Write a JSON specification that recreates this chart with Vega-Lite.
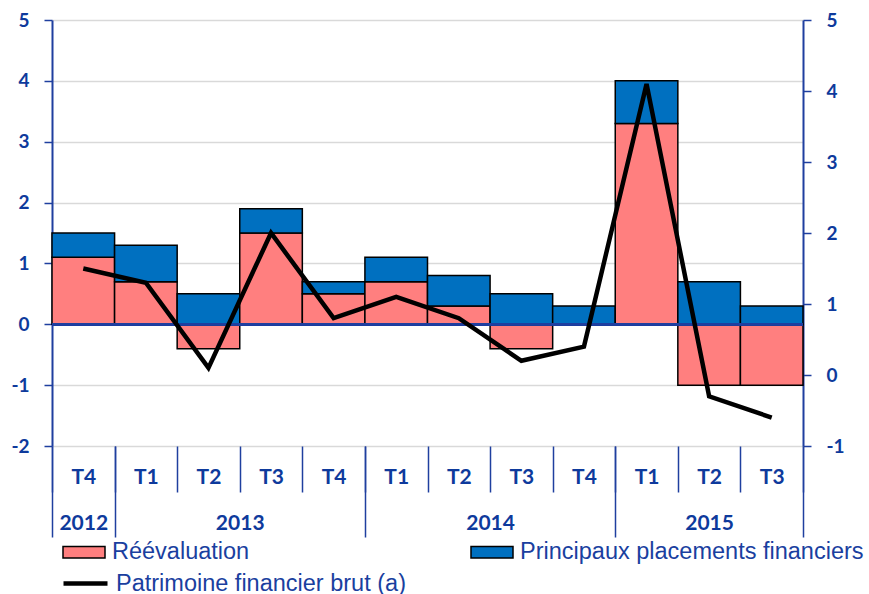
{
  "$schema": "https://vega.github.io/schema/vega-lite/v6.json",
  "width": 751,
  "height": 426,
  "autosize": {"type": "none"},
  "padding": {"left": 52, "top": 20, "right": 66, "bottom": 148},
  "background": "white",
  "config": {"view": {"stroke": null}},
  "data": {
    "values": [
      {"periode": "T4 2012", "Réévaluation": 1.1, "Principaux placements financiers": 0.4, "Patrimoine financier brut (a)": 1.5},
      {"periode": "T1 2013", "Réévaluation": 0.7, "Principaux placements financiers": 0.6, "Patrimoine financier brut (a)": 1.3},
      {"periode": "T2 2013", "Réévaluation": -0.4, "Principaux placements financiers": 0.5, "Patrimoine financier brut (a)": 0.1},
      {"periode": "T3 2013", "Réévaluation": 1.5, "Principaux placements financiers": 0.4, "Patrimoine financier brut (a)": 2.0},
      {"periode": "T4 2013", "Réévaluation": 0.5, "Principaux placements financiers": 0.2, "Patrimoine financier brut (a)": 0.8},
      {"periode": "T1 2014", "Réévaluation": 0.7, "Principaux placements financiers": 0.4, "Patrimoine financier brut (a)": 1.1},
      {"periode": "T2 2014", "Réévaluation": 0.3, "Principaux placements financiers": 0.5, "Patrimoine financier brut (a)": 0.8},
      {"periode": "T3 2014", "Réévaluation": -0.4, "Principaux placements financiers": 0.5, "Patrimoine financier brut (a)": 0.2},
      {"periode": "T4 2014", "Réévaluation": 0.0, "Principaux placements financiers": 0.3, "Patrimoine financier brut (a)": 0.4},
      {"periode": "T1 2015", "Réévaluation": 3.3, "Principaux placements financiers": 0.7, "Patrimoine financier brut (a)": 4.1},
      {"periode": "T2 2015", "Réévaluation": -1.0, "Principaux placements financiers": 0.7, "Patrimoine financier brut (a)": -0.3},
      {"periode": "T3 2015", "Réévaluation": -1.0, "Principaux placements financiers": 0.3, "Patrimoine financier brut (a)": -0.6}
    ]
  },
  "layer": [
    {
      "transform": [{"fold": ["Réévaluation", "Principaux placements financiers"], "as": ["composante", "valeur"]}],
      "layer": [
        {
          "mark": {"type": "bar", "stroke": "black", "strokeWidth": 1.5},
          "encoding": {
            "x": {
              "field": "periode", "type": "nominal", "sort": null,
              "scale": {"paddingInner": 0, "paddingOuter": 0},
              "axis": {
                "orient": "bottom", "title": null, "domain": false,
                "tickBand": "extent", "tickSize": 46, "tickColor": "#1F3F9F", "tickWidth": 1.5,
                "labelExpr": "split(datum.label, ' ')[0]", "labelAngle": 0,
                "labelFont": "Lato", "labelFontSize": 21, "labelFontWeight": "bold", "labelColor": "#0E3A9C",
                "labelPadding": -26, "labelBaseline": "top", "labelOverlap": false
              }
            },
            "y": {
              "field": "valeur", "type": "quantitative", "stack": "zero",
              "scale": {"domain": [-2, 5], "nice": false},
              "axis": {
                "orient": "left", "title": null, "values": [-2, -1, 0, 1, 2, 3, 4, 5],
                "labelExpr": "datum.value + ''",
                "domainColor": "#1F3F9F", "domainWidth": 2,
                "tickColor": "#1F3F9F", "tickSize": 8, "tickWidth": 1.5,
                "labelFont": "Lato", "labelFontSize": 19, "labelFontWeight": "bold", "labelColor": "#0E3A9C",
                "labelPadding": 15,
                "grid": true, "gridColor": "#D9D9D9", "gridWidth": 1.5
              }
            },
            "color": {
              "field": "composante", "type": "nominal",
              "scale": {"domain": ["Réévaluation", "Principaux placements financiers"], "range": ["#FF7F7F", "#0070C0"]},
              "legend": {
                "title": null, "orient": "none", "legendX": 10, "legendY": 510,
                "direction": "horizontal", "columns": 2, "columnPadding": 218, "padding": 0,
                "symbolType": "M-1,-0.27H1V0.27H-1Z", "symbolSize": 1764,
                "symbolStrokeColor": "black", "symbolStrokeWidth": 1.5, "symbolOpacity": 1,
                "labelFont": "Liberation Sans", "labelFontSize": 23.5, "labelColor": "#1A3F9F",
                "labelOffset": 6, "labelLimit": 0
              }
            },
            "order": {"field": "composante", "sort": "descending"}
          }
        },
        {
          "mark": {"type": "rule", "color": "#1F3F9F", "strokeWidth": 2},
          "encoding": {"y": {"datum": 0}}
        }
      ]
    },
    {
      "transform": [{"fold": ["Patrimoine financier brut (a)"], "as": ["serie", "niveau"]}],
      "mark": {"type": "line", "strokeWidth": 4.5, "strokeJoin": "miter"},
      "encoding": {
        "x": {
          "field": "periode", "type": "nominal", "sort": null,
          "axis": {
            "orient": "bottom", "title": null, "domain": false,
            "tickBand": "extent", "values": ["T4 2012", "T4 2013", "T4 2014", "T3 2015"],
            "tickSize": 91, "tickColor": "#1F3F9F", "tickWidth": 1.5,
            "labelExpr": "split(datum.label, ' ')[1]", "labelAngle": 0,
            "labelFont": "Lato", "labelFontSize": 21, "labelFontWeight": "bold", "labelColor": "#0E3A9C",
            "labelPadding": -25, "labelBaseline": "top", "labelOverlap": false,
            "labelOffset": {"condition": [{"test": "datum.value === 'T4 2012'", "value": 0}, {"test": "datum.value === 'T3 2015'", "value": -62.6}], "value": -93.9}
          }
        },
        "y": {
          "field": "niveau", "type": "quantitative",
          "scale": {"domain": [-1, 5], "nice": false},
          "axis": {
            "orient": "right", "title": null, "values": [-1, 0, 1, 2, 3, 4, 5],
            "labelExpr": "datum.value + ''",
            "domainColor": "#1F3F9F", "domainWidth": 2,
            "tickColor": "#1F3F9F", "tickSize": 8, "tickWidth": 1.5,
            "labelFont": "Lato", "labelFontSize": 19, "labelFontWeight": "bold", "labelColor": "#0E3A9C",
            "labelPadding": 15, "grid": false
          }
        },
        "stroke": {
          "field": "serie", "type": "nominal",
          "scale": {"range": ["black"]},
          "legend": {
            "title": null, "orient": "none", "legendX": 9, "legendY": 539, "padding": 0,
            "symbolType": "stroke", "symbolSize": 1936, "symbolStrokeWidth": 4.5,
            "labelFont": "Liberation Sans", "labelFontSize": 23.5, "labelColor": "#1A3F9F",
            "labelOffset": 6, "labelLimit": 0
          }
        }
      }
    }
  ],
  "resolve": {"scale": {"y": "independent"}, "axis": {"x": "independent"}}
}
